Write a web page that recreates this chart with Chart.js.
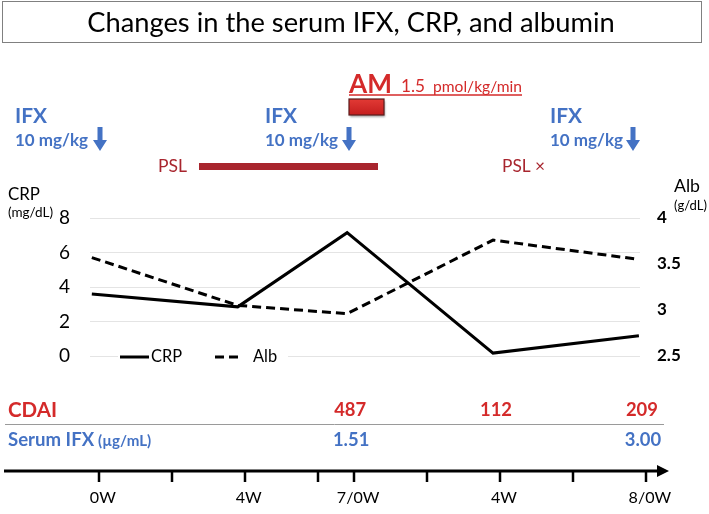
<!DOCTYPE html>
<html>
<head>
<meta charset="utf-8">
<script src="https://cdn.jsdelivr.net/npm/chart.js@4.4.1/dist/chart.umd.min.js"></script>
<style>
    html, body { margin: 0; padding: 0; background: #fff; }
    #wrap { width: 709px; height: 514px; }
</style>
</head>
<body>
<div id="wrap"><canvas id="chart" width="709" height="514"></canvas></div>
<script>
// === data ===
const weeks = [0, 4, 7, 11, 15];
const crpValues = [3.6, 2.85, 7.15, 0.17, 1.17];   // mg/dL
const albValues = [3.57, 3.05, 2.96, 3.76, 3.55];  // g/dL
const timelineTicks = [0, 2, 4, 6, 7, 9, 11, 13, 15];
const timelineLabelWeeks = [0, 4, 7, 11, 15];
const timelineLabels = ['0W', '4W', '7/0W', '4W', '8/0W'];
const cdaiWeeks = [7, 11, 15];
const cdaiValues = [487, 112, 209];
const ifxWeeks = [7, 15];
const ifxLevels = [1.51, 3.00];

const FAMILY = 'Lato';
const BLUE = '#4472C4';
const RED = '#D42A2A';
const DARKRED = '#A8252E';

// font size that makes a text fit a given width (widths)
const mctx = document.createElement('canvas').getContext('2d');
function fnt(text, w, weight) {
    weight = weight || 'normal';
    mctx.font = weight + ' 100px ' + FAMILY;
    const size = 100 * w / mctx.measureText(text).width;
    return weight + ' ' + size.toFixed(1) + 'px ' + FAMILY;
}

function txt(ctx, s, x, y, font, color, align) {
    ctx.font = font;
    ctx.fillStyle = color;
    ctx.textAlign = align || 'left';
    ctx.textBaseline = 'middle';
    ctx.fillText(s, x, y);
}

function downArrow(ctx, cx, top, bottom) {
    ctx.fillStyle = BLUE;
    ctx.beginPath();
    ctx.moveTo(cx - 2.5, top);
    ctx.lineTo(cx + 2.5, top);
    ctx.lineTo(cx + 2.5, bottom - 11);
    ctx.lineTo(cx + 7, bottom - 11);
    ctx.lineTo(cx, bottom);
    ctx.lineTo(cx - 7, bottom - 11);
    ctx.lineTo(cx - 2.5, bottom - 11);
    ctx.closePath();
    ctx.fill();
}

// === annotations drawn around the chart ===
const extras = {
    id: 'extras',
    beforeDraw(chart) {
        const ctx = chart.ctx;
        ctx.save();
        ctx.fillStyle = '#fff';
        ctx.fillRect(0, 0, chart.width, chart.height);
        ctx.restore();
    },
    afterDraw(chart) {
        const ctx = chart.ctx;
        const xs = chart.scales.x;
        ctx.save();

        // title box
        ctx.strokeStyle = '#808080';
        ctx.lineWidth = 1;
        ctx.strokeRect(2.5, 1.5, 699, 41);
        const title = 'Changes in the serum IFX, CRP, and albumin';
        txt(ctx, title, 351, 23, fnt(title, 527), '#000', 'center');

        // IFX doses
        [15, 265, 550].forEach(x => {
            txt(ctx, 'IFX', x, 116, fnt('IFX', 32, 'bold'), BLUE);
            txt(ctx, '10 mg/kg', x, 141, fnt('10 mg/kg', 73, 'bold'), BLUE);
        });
        [100, 349, 633].forEach(cx => downArrow(ctx, cx, 127, 151));

        // PSL
        txt(ctx, 'PSL', 158, 166, fnt('PSL', 29), DARKRED);
        ctx.fillStyle = DARKRED;
        ctx.fillRect(199, 163, 179, 7);
        txt(ctx, 'PSL ×', 502, 166, fnt('PSL ×', 43), DARKRED);

        // AM
        ctx.textBaseline = 'alphabetic';
        ctx.textAlign = 'left';
        ctx.fillStyle = RED;
        ctx.font = fnt('AM', 43, 'bold');
        ctx.fillText('AM', 349, 93);
        ctx.font = fnt('1.5', 24);
        ctx.fillText('1.5', 401, 92);
        ctx.font = fnt('pmol/kg/min', 89);
        ctx.fillText('pmol/kg/min', 433, 92);
        ctx.strokeStyle = RED;
        ctx.lineWidth = 1.5;
        ctx.beginPath();
        ctx.moveTo(349, 95);
        ctx.lineTo(522, 95);
        ctx.stroke();
        ctx.shadowColor = 'rgba(0,0,0,0.35)';
        ctx.shadowOffsetX = 1;
        ctx.shadowOffsetY = 2;
        ctx.shadowBlur = 2;
        const g = ctx.createLinearGradient(0, 99, 0, 115);
        g.addColorStop(0, '#E23A35');
        g.addColorStop(1, '#C41E1E');
        ctx.fillStyle = g;
        ctx.fillRect(349, 99, 35, 16);
        ctx.shadowColor = 'transparent';
        ctx.strokeStyle = '#5A1C1C';
        ctx.lineWidth = 1.2;
        ctx.strokeRect(349, 99, 35, 16);

        // axis titles
        txt(ctx, 'CRP', 8, 195, fnt('CRP', 32), '#000');
        txt(ctx, '(mg/dL)', 8, 213, fnt('(mg/dL)', 45), '#000');
        txt(ctx, 'Alb', 674, 186, fnt('Alb', 26), '#000');
        txt(ctx, '(g/dL)', 674, 206, fnt('(g/dL)', 33), '#000');

        // legend inside the plot, over the 0 gridline
        ctx.fillStyle = '#fff';
        ctx.fillRect(118, 347, 170, 20);
        const lfont = fnt('CRP', 31);
        const legendX = [[120, 149, 151], [215, 243, 253]];
        chart.data.datasets.forEach((ds, i) => {
            const [x0, x1, tx] = legendX[i];
            ctx.strokeStyle = ds.borderColor;
            ctx.lineWidth = 3;
            ctx.setLineDash(ds.borderDash || []);
            ctx.beginPath();
            ctx.moveTo(x0, 357);
            ctx.lineTo(x1, 357);
            ctx.stroke();
            ctx.setLineDash([]);
            txt(ctx, ds.label, tx, 357, lfont, '#000');
        });

        // CDAI and serum IFX rows
        txt(ctx, 'CDAI', 8, 410, fnt('CDAI', 49, 'bold'), RED);
        const vfont = fnt('487', 32, 'bold');
        cdaiWeeks.forEach((w, i) => {
            txt(ctx, String(cdaiValues[i]), xs.getPixelForValue(w) + 3, 410, vfont, RED, 'center');
        });
        ctx.strokeStyle = '#9a9a9a';
        ctx.lineWidth = 1;
        ctx.beginPath();
        ctx.moveTo(5, 424.5);
        ctx.lineTo(664, 424.5);
        ctx.stroke();
        txt(ctx, 'Serum IFX', 8, 440, fnt('Serum IFX', 86, 'bold'), BLUE);
        txt(ctx, '(µg/mL)', 98, 441, fnt('(µg/mL)', 53, 'bold'), BLUE);
        ifxWeeks.forEach((w, i) => {
            txt(ctx, ifxLevels[i].toFixed(2), xs.getPixelForValue(w) + 4, 440, vfont, BLUE, 'center');
        });

        // timeline arrow
        const ty = 471;
        ctx.strokeStyle = '#000';
        ctx.lineWidth = 3;
        ctx.beginPath();
        ctx.moveTo(4, ty);
        ctx.lineTo(660, ty);
        ctx.stroke();
        ctx.fillStyle = '#000';
        ctx.beginPath();
        ctx.moveTo(669, ty);
        ctx.lineTo(657, ty - 6);
        ctx.lineTo(657, ty + 6);
        ctx.closePath();
        ctx.fill();
        ctx.lineWidth = 2.5;
        timelineTicks.forEach(w => {
            const x = Math.round(xs.getPixelForValue(w)) + 7;
            ctx.beginPath();
            ctx.moveTo(x, ty);
            ctx.lineTo(x, ty + 11);
            ctx.stroke();
        });
        const tfont = fnt('0W', 26);
        timelineLabelWeeks.forEach((w, i) => {
            txt(ctx, timelineLabels[i], xs.getPixelForValue(w) + 11, 498, tfont, '#000', 'center');
        });

        ctx.restore();
    }
};

new Chart(document.getElementById('chart'), {
    type: 'line',
    data: {
        datasets: [{
            label: 'CRP',
            data: weeks.map((w, i) => ({ x: w, y: crpValues[i] })),
            borderColor: '#000',
            borderWidth: 3,
            pointRadius: 0,
            tension: 0,
            yAxisID: 'y'
        }, {
            label: 'Alb',
            data: weeks.map((w, i) => ({ x: w, y: albValues[i] })),
            borderColor: '#000',
            borderWidth: 3,
            borderDash: [9, 5],
            pointRadius: 0,
            tension: 0,
            yAxisID: 'y2'
        }]
    },
    options: {
        responsive: false,
        animation: false,
        devicePixelRatio: 1,
        layout: { padding: { top: 218, bottom: 158, left: 0, right: 0 } },
        plugins: { legend: { display: false }, tooltip: { enabled: false } },
        scales: {
            x: { type: 'linear', min: -0.05, max: 15.03, display: false },
            y: {
                position: 'left', min: 0, max: 8,
                ticks: { stepSize: 2, padding: 20, color: '#000', font: { family: FAMILY, size: 19 } },
                grid: { color: '#e4e4e4', drawTicks: false },
                border: { display: false },
                afterFit(s) { s.width = 90; }
            },
            y2: {
                position: 'right', min: 2.5, max: 4,
                ticks: {
                    stepSize: 0.5, padding: 17, color: '#000',
                    font: { family: FAMILY, size: 17, weight: 'bold' },
                    callback: v => String(v)
                },
                grid: { display: false, drawTicks: false },
                border: { display: false },
                afterFit(s) { s.width = 69; }
            }
        }
    },
    plugins: [extras]
});
</script>
</body>
</html>
